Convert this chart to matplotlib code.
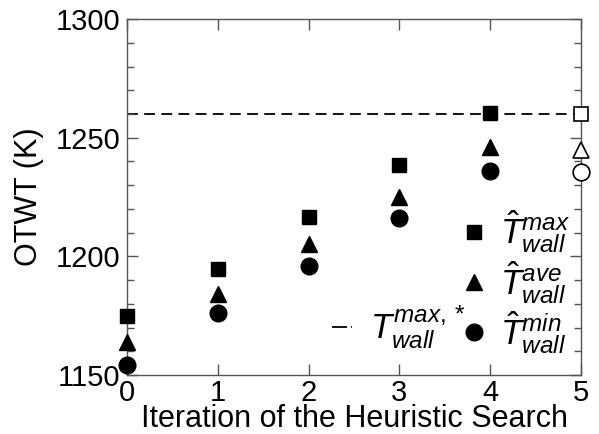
import matplotlib
matplotlib.use('Agg')
import matplotlib.pyplot as plt
from matplotlib.lines import Line2D
from matplotlib.ticker import MultipleLocator

plt.rcParams['font.family'] = ['Liberation Sans', 'DejaVu Sans']
plt.rcParams['mathtext.fontset'] = 'custom'
plt.rcParams['mathtext.rm'] = 'Liberation Sans'
plt.rcParams['mathtext.it'] = 'Liberation Sans:italic'

# data
iters = [0, 1, 2, 3, 4]
t_max = [1175, 1194.5, 1216.5, 1238.5, 1260.5]
t_ave = [1164, 1184, 1205, 1225, 1246]
t_min = [1154, 1176, 1196, 1216, 1236]
final_x = 5
final_max = 1260
final_ave = 1245
final_min = 1235.5
t_limit = 1260

fig = plt.figure(figsize=(5.99, 4.34), dpi=100)
ax = fig.add_axes([0.212, 0.136, 0.758, 0.820])

ax.axhline(t_limit, color='black', lw=1.3, ls=(0, (6, 3.5)), zorder=1)

ax.plot(iters, t_max, 's', color='black', ms=10, clip_on=False, zorder=3)
ax.plot(iters, t_ave, '^', color='black', ms=11, clip_on=False, zorder=3)
ax.plot(iters, t_min, 'o', color='black', ms=12, clip_on=False, zorder=3)

ax.plot(final_x, final_max, 's', mfc='white', mec='black', mew=1.2, ms=10, clip_on=False, zorder=3)
ax.plot(final_x, final_ave, '^', mfc='white', mec='black', mew=1.2, ms=11, clip_on=False, zorder=3)
ax.plot(final_x, final_min, 'o', mfc='white', mec='black', mew=1.2, ms=12, clip_on=False, zorder=3)

ax.set_xlim(0, 5)
ax.set_ylim(1150, 1300)
ax.xaxis.set_major_locator(MultipleLocator(1))
ax.yaxis.set_major_locator(MultipleLocator(50))
ax.yaxis.set_minor_locator(MultipleLocator(10))
ax.tick_params(which='both', direction='in', top=True, right=True, colors='#555555',
               labelcolor='black', labelsize=21, width=1)
ax.tick_params(which='major', length=8)
ax.tick_params(which='minor', length=5)
ax.tick_params(axis='y', which='major', pad=5)
ax.tick_params(axis='x', which='major', pad=3)
for s in ax.spines.values():
    s.set_color('#555555')
    s.set_linewidth(1)

ax.set_xlabel('Iteration of the Heuristic Search', fontsize=22, labelpad=-2)
ax.set_ylabel('OTWT (K)', fontsize=22, labelpad=8)

# legend of the markers
h_markers = [
    Line2D([], [], ls='none', marker='s', color='black', ms=10),
    Line2D([], [], ls='none', marker='^', color='black', ms=11),
    Line2D([], [], ls='none', marker='o', color='black', ms=12),
]
lab_markers = [r'$\hat{T}^{max}_{wall}$', r'$\hat{T}^{ave}_{wall}$', r'$\hat{T}^{min}_{wall}$']
leg1 = ax.legend(h_markers, lab_markers, loc='center left', bbox_to_anchor=(0.725, 0.261),
                 frameon=False, fontsize=25, handlelength=1.0, handletextpad=0.25,
                 labelspacing=0.1, borderaxespad=0, borderpad=0)
ax.add_artist(leg1)

# legend of the limit line
h_line = [Line2D([], [], color='black', lw=1.3, ls=(0, (8.3, 2.3, 0.8, 40)))]
ax.legend(h_line, [r'$T^{max,*}_{wall}$'], loc='center left', bbox_to_anchor=(0.452, 0.135),
          frameon=False, fontsize=25, handlelength=0.58, handletextpad=0.5,
          borderaxespad=0, borderpad=0)

fig.savefig('out.png', dpi=100)
